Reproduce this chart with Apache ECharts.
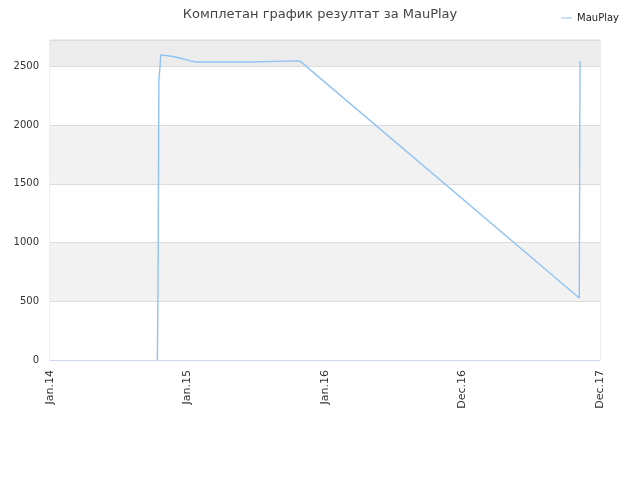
<!DOCTYPE html>
<html>
<head>
<meta charset="utf-8">
<script src="https://cdn.jsdelivr.net/npm/echarts@6/dist/echarts.min.js"></script>
<style>
  html, body { margin: 0; padding: 0; background: #fff; }
  #chart { width: 640px; height: 480px; }
</style>
</head>
<body>
<div id="chart"></div>
<script>
// x values are days counted from 1 Jan 2014
const startDate = Date.UTC(2014, 0, 1);
const days = [285, 287, 288, 289, 292, 294, 298, 318, 345, 372, 388, 525, 527, 663, 1405, 1407];
const scores = [0, 741, 741, 2385, 2496, 2598, 2602, 2589, 2572, 2547, 2538, 2538, 2547, 2547, 528, 2547];
const seriesName = 'MauPlay';
const monthNames = ['Jan', 'Feb', 'Mar', 'Apr', 'May', 'Jun', 'Jul', 'Aug', 'Sep', 'Oct', 'Nov', 'Dec'];

const points = days.map((d, i) => [d, scores[i]]);

function dayLabel(d) {
  const dt = new Date(startDate + d * 86400000);
  return monthNames[dt.getUTCMonth()] + '.' + String(dt.getUTCFullYear()).slice(2);
}

const myChart = echarts.init(document.getElementById('chart'));

myChart.setOption({
  animation: false,
  title: {
    text: 'Комплетан график резултат за MauPlay',
    left: 'center',
    top: 3,
    textStyle: { fontFamily: 'DejaVu Sans', fontSize: 13, fontWeight: 'normal', color: '#444' }
  },
  legend: {
    data: [seriesName],
    right: 16,
    top: 8,
    icon: 'rect',
    itemWidth: 11,
    itemHeight: 1,
    itemGap: 5,
    textStyle: { fontFamily: 'DejaVu Sans', fontSize: 10, color: '#222' }
  },
  grid: {
    left: 50, right: 40, top: 40, bottom: 120,
    show: true,
    borderColor: '#dcdcdc',
    borderWidth: 1
  },
  xAxis: {
    type: 'value',
    min: 0,
    max: 1460,
    interval: 365,
    axisLine: { show: true, lineStyle: { color: '#ccd6eb' } },
    axisTick: { show: false },
    splitLine: { show: false },
    axisLabel: {
      rotate: 90,
      formatter: dayLabel,
      fontFamily: 'DejaVu Sans',
      fontSize: 11,
      color: '#333',
      margin: 10
    }
  },
  yAxis: {
    type: 'value',
    min: 0,
    max: 2725,
    interval: 500,
    axisLine: { show: false },
    axisTick: { show: false },
    axisLabel: {
      formatter: v => String(v),
      fontFamily: 'DejaVu Sans',
      fontSize: 10,
      color: '#333',
      margin: 11,
      showMaxLabel: false
    },
    splitLine: { lineStyle: { color: '#dcdcdc' } },
    splitArea: {
      show: true,
      areaStyle: { color: ['#ffffff', '#f2f2f2', '#ffffff', '#f2f2f2', '#ffffff', '#ececec'] }
    }
  },
  series: [{
    name: seriesName,
    type: 'line',
    data: points,
    showSymbol: false,
    symbol: 'none',
    color: '#90c3f3',
    lineStyle: { width: 1.4, color: '#90c3f3' }
  }]
});
window.onresize = () => {
  myChart.resize();
};
</script>
</body>
</html>
